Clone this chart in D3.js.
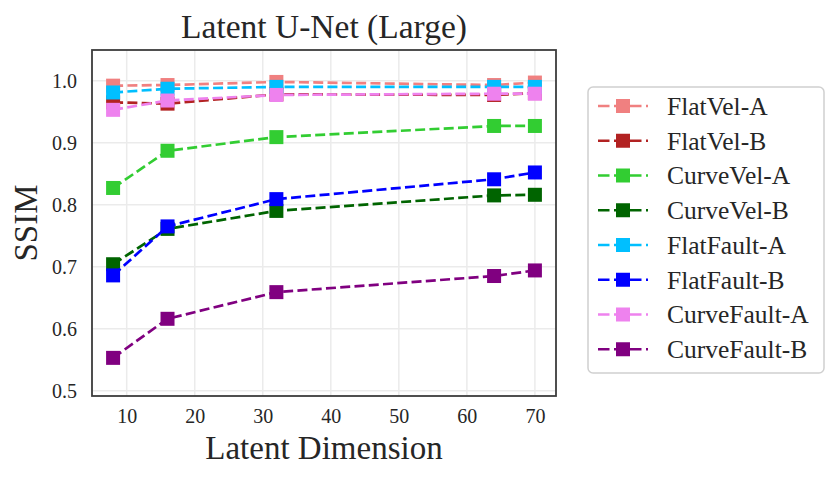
<!DOCTYPE html>
<html>
<head>
<meta charset="utf-8">
<script src="https://cdn.jsdelivr.net/npm/d3@7"></script>
<style>
  body { margin: 0; background: #fff; }
  svg { display: block; }
  text { font-family: "Liberation Serif", "Times New Roman", serif; fill: #262626; }
</style>
</head>
<body>
<svg width="838" height="481"></svg>
<script>
const width = 838;
const height = 481;

// latent dimensions on the x axis
const dims = [8, 16, 32, 64, 70];

// SSIM per dataset
const flatVelA = [0.992, 0.993, 0.998, 0.993, 0.997];
const flatVelB = [0.965, 0.963, 0.978, 0.977, 0.980];
const curveVelA = [0.827, 0.887, 0.909, 0.927, 0.927];
const curveVelB = [0.704, 0.761, 0.790, 0.815, 0.816];
const flatFaultA = [0.981, 0.987, 0.990, 0.990, 0.990];
const flatFaultB = [0.686, 0.765, 0.809, 0.841, 0.852];
const curveFaultA = [0.953, 0.968, 0.977, 0.979, 0.979];
const curveFaultB = [0.553, 0.616, 0.659, 0.685, 0.694];

const seriesNames = ["FlatVel-A", "FlatVel-B", "CurveVel-A", "CurveVel-B",
                     "FlatFault-A", "FlatFault-B", "CurveFault-A", "CurveFault-B"];
const seriesValues = [flatVelA, flatVelB, curveVelA, curveVelB,
                      flatFaultA, flatFaultB, curveFaultA, curveFaultB];
const seriesColors = ["#F08080", "#B22222", "#32CD32", "#006400",
                      "#00BFFF", "#0000FF", "#EE82EE", "#800080"];

const xTicks = [10, 20, 30, 40, 50, 60, 70];
const yTicks = [0.5, 0.6, 0.7, 0.8, 0.9, 1.0];

const series = seriesNames.map((name, i) => ({
  name: name,
  color: seriesColors[i],
  points: dims.map((d, j) => ({ x: d, y: seriesValues[i][j] }))
}));

const plot = { left: 92, right: 556, top: 50, bottom: 396 };
const markerSize = 14;
const dash = "10,4.3";

const svg = d3.select("svg");

const x = d3.scaleLinear()
  .domain([4.9, 73.1])
  .range([plot.left, plot.right]);

const y = d3.scaleLinear()
  .domain([0.4915, 1.0495])
  .range([plot.bottom, plot.top]);

// grid
const grid = svg.append("g");
grid.selectAll(".gx")
  .data(xTicks)
  .join("line")
  .attr("x1", d => x(d)).attr("x2", d => x(d))
  .attr("y1", plot.top).attr("y2", plot.bottom)
  .attr("stroke", "#ebebeb")
  .attr("stroke-width", 1.5);
grid.selectAll(".gy")
  .data(yTicks)
  .join("line")
  .attr("y1", d => y(d)).attr("y2", d => y(d))
  .attr("x1", plot.left).attr("x2", plot.right)
  .attr("stroke", "#ebebeb")
  .attr("stroke-width", 1.5);

// axes (labels only, no tick marks)
const xAxis = svg.append("g")
  .attr("transform", `translate(0,${plot.bottom})`)
  .call(d3.axisBottom(x).tickValues(xTicks).tickSize(0).tickPadding(13));
const yAxis = svg.append("g")
  .attr("transform", `translate(${plot.left},0)`)
  .call(d3.axisLeft(y).tickValues(yTicks).tickFormat(d3.format(".1f")).tickSize(0).tickPadding(15));

[xAxis, yAxis].forEach(a => {
  a.select(".domain").remove();
  a.selectAll("text")
    .style("font-family", '"Liberation Serif", serif')
    .style("font-size", "20px")
    .attr("fill", "#262626");
});

// series
const line = d3.line().x(d => x(d.x)).y(d => y(d.y));

const seriesG = svg.append("g")
  .selectAll("g")
  .data(series)
  .join("g");

seriesG.append("path")
  .attr("d", d => line(d.points))
  .attr("fill", "none")
  .attr("stroke", d => d.color)
  .attr("stroke-width", 2.7)
  .attr("stroke-dasharray", dash);

seriesG.selectAll("rect")
  .data(d => d.points.map(p => Object.assign({ color: d.color }, p)))
  .join("rect")
  .attr("x", d => x(d.x) - markerSize / 2)
  .attr("y", d => y(d.y) - markerSize / 2)
  .attr("width", markerSize)
  .attr("height", markerSize)
  .attr("fill", d => d.color);

// frame
svg.append("rect")
  .attr("x", plot.left).attr("y", plot.top)
  .attr("width", plot.right - plot.left)
  .attr("height", plot.bottom - plot.top)
  .attr("fill", "none")
  .attr("stroke", "#3c3c3c")
  .attr("stroke-width", 1.8);

// titles
svg.append("text")
  .attr("x", (plot.left + plot.right) / 2)
  .attr("y", 38)
  .attr("text-anchor", "middle")
  .style("font-size", "33.5px")
  .text("Latent U-Net (Large)");

svg.append("text")
  .attr("x", (plot.left + plot.right) / 2)
  .attr("y", 459)
  .attr("text-anchor", "middle")
  .style("font-size", "33px")
  .text("Latent Dimension");

svg.append("text")
  .attr("transform", `translate(37,${(plot.top + plot.bottom) / 2}) rotate(-90)`)
  .attr("text-anchor", "middle")
  .style("font-size", "33px")
  .text("SSIM");

// legend
const legend = svg.append("g");
legend.append("rect")
  .attr("x", 588).attr("y", 87)
  .attr("width", 236).attr("height", 286)
  .attr("rx", 5)
  .attr("fill", "#fff")
  .attr("stroke", "#d0d0d0")
  .attr("stroke-width", 1.5);

const item = legend.selectAll(".item")
  .data(series)
  .join("g")
  .attr("transform", (d, i) => `translate(0,${106 + i * 34.75})`);

item.append("line")
  .attr("x1", 598).attr("x2", 648)
  .attr("stroke", d => d.color)
  .attr("stroke-width", 2.7)
  .attr("stroke-dasharray", "11.5,4.5");

item.append("rect")
  .attr("x", 623 - markerSize / 2)
  .attr("y", -markerSize / 2)
  .attr("width", markerSize)
  .attr("height", markerSize)
  .attr("fill", d => d.color);

item.append("text")
  .attr("x", 667)
  .attr("dy", "0.35em")
  .style("font-size", "25.5px")
  .text(d => d.name);
</script>
</body>
</html>
